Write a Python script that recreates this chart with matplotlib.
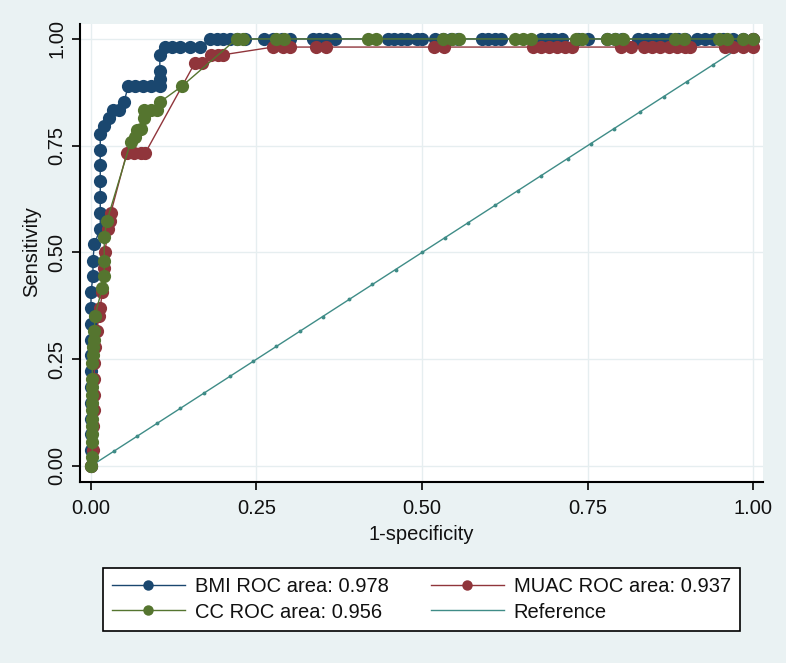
import matplotlib
matplotlib.use("Agg")
import matplotlib.pyplot as plt
from matplotlib.lines import Line2D

# ROC points (1-specificity, sensitivity)
bmi_fpr = [0, 0, 0, 0, 0, 0, 0, 0, 0, 0, 0, 0, 0.003, 0.003, 0.005,
           0.014, 0.014, 0.014, 0.014, 0.014, 0.014, 0.014, 0.02, 0.027, 0.034,
           0.042, 0.05, 0.056, 0.066, 0.078, 0.09, 0.104, 0.104, 0.104, 0.104,
           0.112, 0.122, 0.135, 0.15, 0.165, 0.18, 0.19, 0.2, 0.21, 0.22,
           0.233, 0.262, 0.275, 0.288, 0.3, 0.335, 0.345, 0.355, 0.368,
           0.448, 0.458, 0.468, 0.478, 0.492, 0.5, 0.52, 0.532, 0.544, 0.555,
           0.59, 0.6, 0.61, 0.62, 0.68, 0.69, 0.7, 0.712, 0.735, 0.75,
           0.78, 0.792, 0.802, 0.826, 0.838, 0.85, 0.862, 0.874, 0.886, 0.898,
           0.915, 0.928, 0.94, 0.955, 0.97, 0.985, 1.0]
bmi_tpr = [0, 0.037, 0.074, 0.111, 0.148, 0.185, 0.222, 0.259, 0.296, 0.333,
           0.37, 0.407, 0.444, 0.481, 0.519, 0.556, 0.593, 0.63, 0.667, 0.704,
           0.741, 0.778, 0.796, 0.815, 0.833, 0.833, 0.852, 0.889, 0.889, 0.889,
           0.889, 0.889, 0.907, 0.926, 0.963, 0.981, 0.981, 0.981, 0.981, 0.981,
           1.0, 1.0, 1.0, 1.0, 1.0, 1.0, 1.0, 1.0, 1.0, 1.0, 1.0, 1.0, 1.0, 1.0,
           1.0, 1.0, 1.0, 1.0, 1.0, 1.0, 1.0, 1.0, 1.0, 1.0, 1.0, 1.0, 1.0, 1.0,
           1.0, 1.0, 1.0, 1.0, 1.0, 1.0, 1.0, 1.0, 1.0, 1.0, 1.0, 1.0, 1.0, 1.0,
           1.0, 1.0, 1.0, 1.0, 1.0, 1.0, 1.0, 1.0, 1.0]

muac_fpr = [0, 0.003, 0.003, 0.005, 0.005, 0.005, 0.005, 0.006, 0.009, 0.012,
            0.014, 0.017, 0.02, 0.021, 0.026, 0.028, 0.03, 0.054, 0.065, 0.075,
            0.082, 0.157, 0.167, 0.182, 0.192, 0.2, 0.275, 0.29, 0.3, 0.34,
            0.355, 0.518, 0.533, 0.668, 0.68, 0.692, 0.704, 0.716, 0.727, 0.8,
            0.815, 0.836, 0.848, 0.86, 0.873, 0.885, 0.897, 0.905, 0.958, 0.97,
            0.985, 1.0, 1.0]
muac_tpr = [0, 0.037, 0.093, 0.13, 0.167, 0.204, 0.241, 0.278, 0.315, 0.352,
            0.37, 0.407, 0.463, 0.5, 0.556, 0.574, 0.593, 0.733, 0.733, 0.733,
            0.733, 0.944, 0.944, 0.963, 0.963, 0.963, 0.981, 0.981, 0.981, 0.981,
            0.981, 0.981, 0.981, 0.981, 0.981, 0.981, 0.981, 0.981, 0.981, 0.981,
            0.981, 0.981, 0.981, 0.981, 0.981, 0.981, 0.981, 0.981, 0.981, 0.981,
            0.981, 0.981, 1.0]

cc_fpr = [0, 0.002, 0.002, 0.002, 0.002, 0.002, 0.002, 0.002, 0.002, 0.002,
          0.002, 0.002, 0.003, 0.003, 0.004, 0.005, 0.006, 0.017, 0.02, 0.02,
          0.02, 0.024, 0.06, 0.066, 0.07, 0.075, 0.08, 0.08, 0.09, 0.1,
          0.104, 0.137, 0.22, 0.23, 0.28, 0.292, 0.418, 0.43, 0.532, 0.545,
          0.556, 0.64, 0.652, 0.664, 0.733, 0.742, 0.78, 0.792, 0.804, 0.882,
          0.896, 0.948, 0.96, 0.985, 1.0]
cc_tpr = [0, 0.02, 0.056, 0.074, 0.093, 0.111, 0.13, 0.148, 0.167, 0.185,
          0.204, 0.241, 0.259, 0.278, 0.296, 0.315, 0.352, 0.417, 0.444, 0.481,
          0.537, 0.574, 0.759, 0.77, 0.787, 0.79, 0.815, 0.833, 0.833, 0.833,
          0.852, 0.889, 1.0, 1.0, 1.0, 1.0, 1.0, 1.0, 1.0, 1.0,
          1.0, 1.0, 1.0, 1.0, 1.0, 1.0, 1.0, 1.0, 1.0, 1.0,
          1.0, 1.0, 1.0, 1.0, 1.0]

ref_pts = [0, 0.035, 0.07, 0.1, 0.135, 0.17, 0.21, 0.245, 0.28, 0.315, 0.35,
           0.39, 0.425, 0.46, 0.5, 0.535, 0.57, 0.61, 0.645, 0.68, 0.72, 0.755,
           0.79, 0.83, 0.865, 0.9, 0.94, 0.975, 1.0]

labels = ["BMI ROC area: 0.978", "MUAC ROC area: 0.937",
          "CC ROC area: 0.956", "Reference"]

NAVY = "#1a476f"
MAROON = "#90353b"
GREEN = "#55752f"
TEAL = "#3f8c87"
BG = "#eaf2f3"

plt.rcParams["font.family"] = ["Liberation Sans", "DejaVu Sans"]
plt.rcParams["text.color"] = "#111111"

fig = plt.figure(figsize=(7.86, 6.63), dpi=100, facecolor=BG)
ax = fig.add_axes([80 / 786, 1 - 482 / 663, 683 / 786, 458 / 663])
ax.set_facecolor("white")

ax.set_xlim(-0.0166, 1.0151)
ax.set_ylim(-0.0375, 1.035)

ticks = [0, 0.25, 0.5, 0.75, 1.0]
ticklabels = ["0.00", "0.25", "0.50", "0.75", "1.00"]
ax.set_xticks(ticks)
ax.set_xticklabels(ticklabels)
ax.set_yticks(ticks)
ax.set_yticklabels(ticklabels, rotation=90, va="center")
ax.tick_params(axis="both", length=6, width=1.2, color="black",
               labelsize=14.5, labelcolor="#111111")
ax.tick_params(axis="x", pad=6)
ax.tick_params(axis="y", pad=4)
ax.grid(True, color="#e6eef0", linewidth=1.0)
ax.set_axisbelow(True)

for side in ["top", "right"]:
    ax.spines[side].set_visible(False)
for side in ["left", "bottom"]:
    ax.spines[side].set_linewidth(1.5)
    ax.spines[side].set_color("black")

ax.plot(ref_pts, ref_pts, color=TEAL, linewidth=1.0, marker="o",
        markersize=1.8, zorder=2)

ms = 9.5
ax.plot(bmi_fpr, bmi_tpr, color=NAVY, linewidth=1.0, marker="o",
        markersize=ms, markeredgewidth=0, zorder=3)
ax.plot(muac_fpr, muac_tpr, color=MAROON, linewidth=1.0, marker="o",
        markersize=ms, markeredgewidth=0, zorder=4)
ax.plot(cc_fpr, cc_tpr, color=GREEN, linewidth=1.0, marker="o",
        markersize=ms, markeredgewidth=0, zorder=5)

fig.text(421 / 786, 1 - 534 / 663, "1-specificity", ha="center", va="center",
         fontsize=14.5)
fig.text(32 / 786, 1 - 252 / 663, "Sensitivity", ha="center", va="center",
         rotation=90, fontsize=14.5)

mk = dict(linewidth=1.0, marker="o", markersize=7.5, markeredgewidth=0)
h_bmi = Line2D([], [], color=NAVY, **mk)
h_muac = Line2D([], [], color=MAROON, **mk)
h_cc = Line2D([], [], color=GREEN, **mk)
h_ref = Line2D([], [], color=TEAL, linewidth=1.0)
# legend fills column by column, so order BMI, CC | MUAC, Reference
leg = fig.legend([h_bmi, h_cc, h_muac, h_ref],
                 [labels[0], labels[2], labels[1], labels[3]],
                 ncol=2, loc="center", mode="expand",
                 bbox_to_anchor=(103 / 786, 1 - 632 / 663, 637 / 786, 65 / 663),
                 borderaxespad=0, fontsize=14.5, frameon=True, fancybox=False,
                 edgecolor="black", facecolor="white", framealpha=1.0,
                 handlelength=3.6, handletextpad=0.5, columnspacing=1.5,
                 labelspacing=0.3, borderpad=0.45)
leg.get_frame().set_linewidth(1.2)

fig.savefig("out.png", dpi=100, facecolor=BG)
